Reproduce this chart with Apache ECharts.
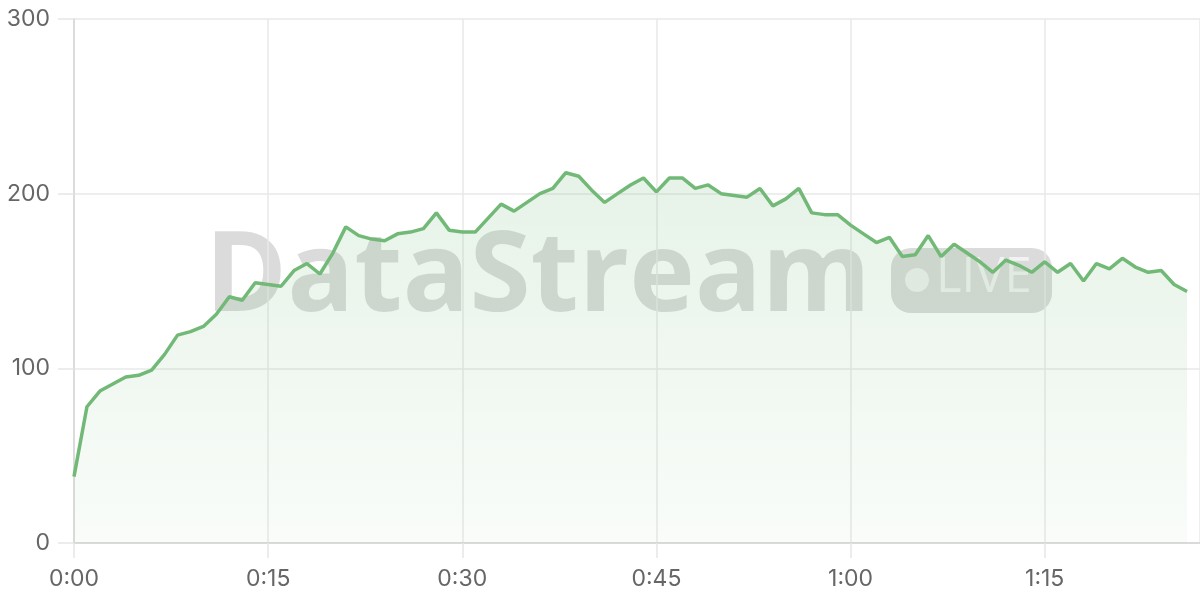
<!DOCTYPE html>
<html>
<head>
<meta charset="utf-8">
<script src="https://cdn.jsdelivr.net/npm/echarts@6/dist/echarts.min.js"></script>
<style>
html,body{margin:0;padding:0;background:#fff;}
#chart{width:1200px;height:600px;}
</style>
</head>
<body>
<div id="chart"></div>
<script>
// minutes since start
const minutes = [];
for (let i = 0; i <= 86; i++) minutes.push(i);

const viewers = [
  38, 78, 87, 91, 95, 96, 99, 108, 119, 121,
  124, 131, 141, 139, 149, 148, 147, 156, 160, 154,
  166, 181, 176, 174, 173, 177, 178, 180, 189, 179,
  178, 178, 186, 194, 190, 195, 200, 203, 212, 210,
  202, 195, 200, 205, 209, 201, 209, 209, 203, 205,
  200, 199, 198, 203, 193, 197, 203, 189, 188, 188,
  182, 177, 172, 175, 164, 165, 176, 164, 171, 166,
  161, 155, 162, 159, 155, 161, 155, 160, 150, 160,
  157, 163, 158, 155, 156, 148, 144
];

const xTicks = [0, 15, 30, 45, 60, 75];
const yTicks = [0, 100, 200, 300];

const seriesData = minutes.map((m, i) => [m, viewers[i]]);

function fmtTime(v) {
  const h = Math.floor(v / 60);
  const m = v % 60;
  return h + ':' + (m < 10 ? '0' : '') + m;
}

const chart = echarts.init(document.getElementById('chart'));
const labelFont = 'Inter, "Noto Sans", sans-serif';
chart.setOption({
  animation: false,
  backgroundColor: '#ffffff',
  grid: { left: 74, right: 0, top: 19, bottom: 57, containLabel: false },
  graphic: [
    {
      type: 'text', z: 0, silent: true,
      left: 205, top: 224,
      style: {
        text: 'DataStream',
        fontFamily: '"Open Sans", sans-serif',
        fontWeight: 'bold',
        fontSize: 111,
        fill: 'rgba(0,0,0,0.14)'
      }
    },
    {
      type: 'rect', z: 0, silent: true,
      shape: { x: 891, y: 248, width: 161, height: 65, r: 20 },
      style: { fill: 'rgba(0,0,0,0.14)' }
    },
    {
      type: 'circle', z: 0, silent: true,
      shape: { cx: 917, cy: 280, r: 12 },
      style: { fill: 'rgba(255,255,255,0.6)' }
    },
    {
      type: 'text', z: 0, silent: true,
      left: 936, top: 254,
      style: {
        text: 'LIVE',
        fontFamily: '"Open Sans", sans-serif',
        fontWeight: 500,
        fontSize: 49,
        fill: 'rgba(255,255,255,0.65)'
      }
    }
  ],
  xAxis: {
    type: 'value',
    min: 0,
    max: 87,
    interval: 15,
    axisLine: { show: true, lineStyle: { color: '#d4d4d4', width: 1.5 } },
    axisTick: { show: true, length: 15, lineStyle: { color: '#e6e6e6', width: 1.5 } },
    splitLine: { show: true, lineStyle: { color: '#e9e9e9', width: 1.5 } },
    axisLabel: {
      margin: 25,
      color: '#666666',
      fontSize: 23,
      fontFamily: labelFont,
      showMaxLabel: false,
      formatter: function (v) { return xTicks.indexOf(v) >= 0 ? fmtTime(v) : ''; }
    }
  },
  yAxis: {
    type: 'value',
    min: 0,
    max: 300,
    interval: 100,
    axisLine: { show: true, lineStyle: { color: '#d4d4d4', width: 1.5 } },
    axisTick: { show: true, length: 16, lineStyle: { color: '#e6e6e6', width: 1.5 } },
    splitLine: { show: true, lineStyle: { color: '#e9e9e9', width: 1.5 } },
    axisLabel: {
      margin: 24,
      color: '#666666',
      fontSize: 23,
      fontFamily: labelFont,
      formatter: function (v) { return yTicks.indexOf(v) >= 0 ? String(v) : ''; }
    }
  },
  series: [{
    type: 'line',
    data: seriesData,
    showSymbol: false,
    smooth: false,
    z: 3,
    lineStyle: { color: '#72b977', width: 3.5 },
    itemStyle: { color: '#72b977' },
    areaStyle: {
      color: new echarts.graphic.LinearGradient(0, 0, 0, 1, [
        { offset: 0, color: 'rgba(114,185,119,0.25)' },
        { offset: 1, color: 'rgba(114,185,119,0.06)' }
      ])
    }
  }]
});
</script>
</body>
</html>
